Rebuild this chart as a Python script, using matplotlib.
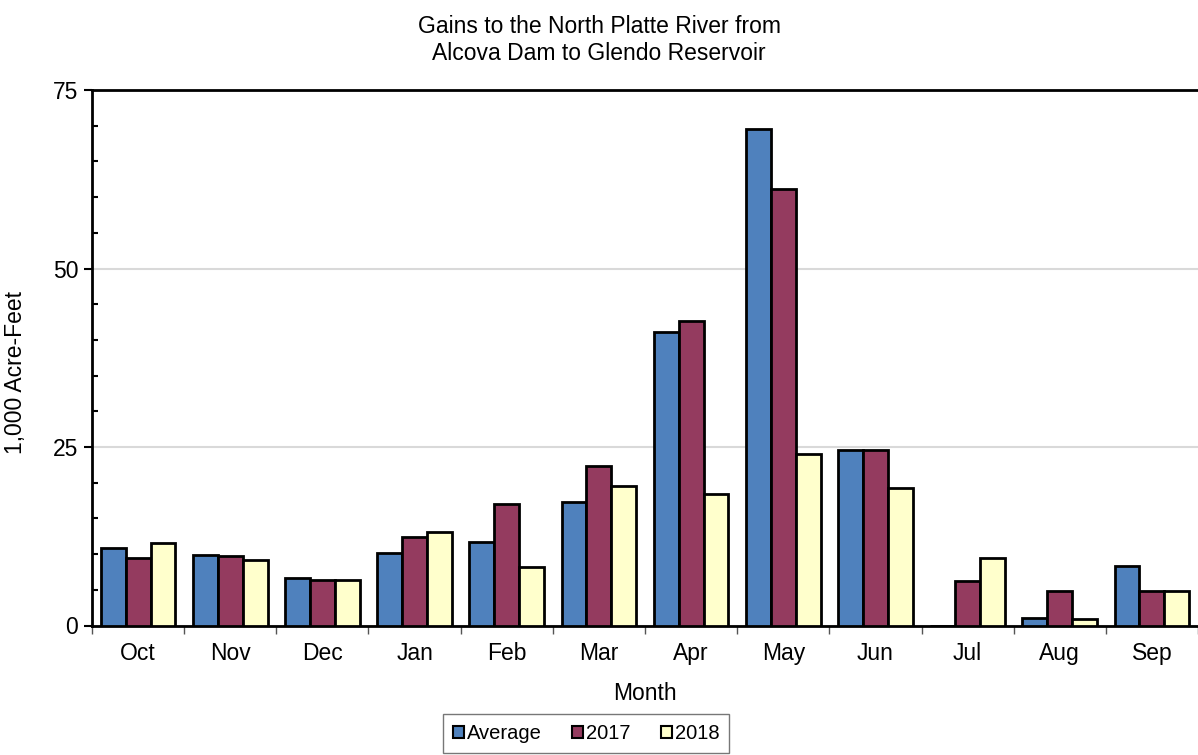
import numpy as np
import matplotlib
matplotlib.use("Agg")
import matplotlib.pyplot as plt
from matplotlib.patches import Patch

plt.rcParams['font.family'] = ['Liberation Sans', 'DejaVu Sans']

months = ["Oct", "Nov", "Dec", "Jan", "Feb", "Mar", "Apr", "May", "Jun", "Jul", "Aug", "Sep"]
average = [10.8, 9.9, 6.6, 10.1, 11.7, 17.3, 41.1, 69.6, 24.6, 0.0, 1.0, 8.4]
y2017 = [9.4, 9.8, 6.4, 12.4, 17.0, 22.4, 42.7, 61.1, 24.6, 6.3, 4.8, 4.9]
y2018 = [11.5, 9.2, 6.4, 13.1, 8.2, 19.6, 18.4, 24.0, 19.2, 9.4, 0.9, 4.9]
series_names = ["Average", "2017", "2018"]
colors = ["#4F81BD", "#943B5F", "#FFFFCC"]

FS = 16.5

fig = plt.figure(figsize=(11.98, 7.55), dpi=100)
ax = fig.add_axes([92 / 1198, 1 - 625.5 / 755, (1198 - 92) / 1198, (625.5 - 90) / 755])

x = np.arange(len(months))
w = 0.27
for i, (vals, c) in enumerate(zip([average, y2017, y2018], colors)):
    ax.bar(x + (i - 1) * w, vals, width=w, color=c, edgecolor="black",
           linewidth=2, zorder=3)

ax.set_xlim(-0.5, len(months) - 0.5)
ax.set_ylim(0, 75)
ax.set_yticks([0, 25, 50, 75])
ax.set_yticks(np.arange(0, 76, 5), minor=True)
ax.yaxis.grid(True, which="major", color="#D9D9D9", linewidth=1.5, zorder=0)
ax.tick_params(axis="y", which="major", direction="out", length=6, width=1.5,
               labelsize=FS, pad=4)
ax.tick_params(axis="y", which="minor", direction="in", length=4, width=1.5)

ax.set_xticks(x)
ax.set_xticklabels(months, fontsize=FS)
ax.set_xticks(np.arange(-0.5, len(months), 1), minor=True)
ax.tick_params(axis="x", which="major", length=0, pad=12)
ax.tick_params(axis="x", which="minor", direction="out", length=6, width=1,
               color="#555555")

ax.spines["right"].set_visible(False)
for s in ["left", "bottom", "top"]:
    ax.spines[s].set_linewidth(2)

ax.set_xlabel("Month", fontsize=FS, labelpad=12)
ax.set_ylabel("1,000 Acre-Feet", fontsize=FS, va="center", ha="center")
ax.yaxis.set_label_coords((16 - 92) / 1106, (625.5 - 372) / 535.5)
fig.text(0.5, 1 - 40 / 755, "Gains to the North Platte River from\nAlcova Dam to Glendo Reservoir",
         ha="center", va="center", fontsize=16.5, linespacing=1.22)

handles = [Patch(facecolor=c, edgecolor="black", linewidth=1.5) for c in colors]
leg = fig.legend(handles, series_names, loc="upper center", bbox_to_anchor=(586 / 1198, 1 - 714 / 755),
                 ncol=3, fontsize=14.5, frameon=True, fancybox=False, handlelength=0.55,
                 handleheight=0.55, handletextpad=0.15, columnspacing=1.5,
                 borderpad=0.5, borderaxespad=0)
leg.get_frame().set_edgecolor("#555555")
leg.get_frame().set_linewidth(1)

fig.savefig("out.png", dpi=100)
